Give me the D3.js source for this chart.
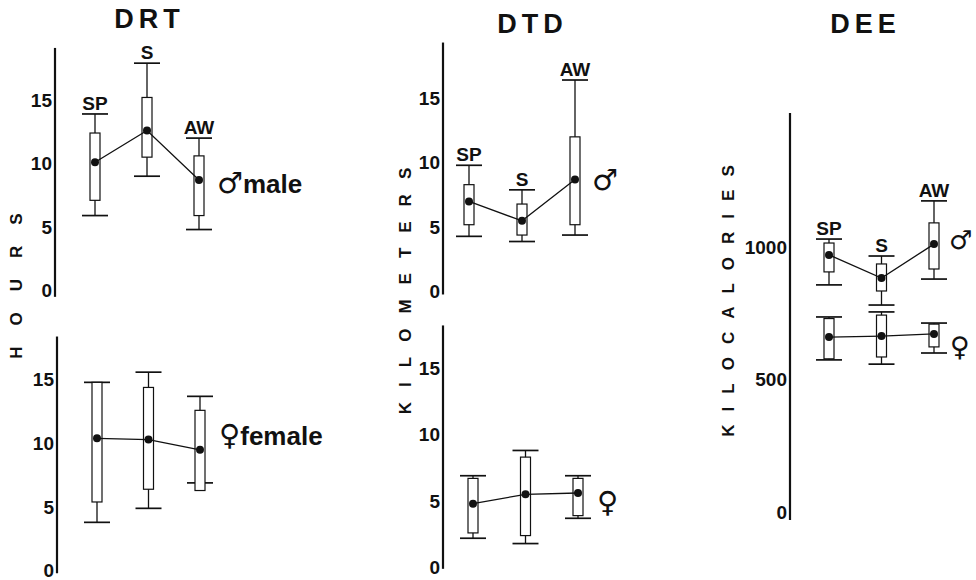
<!DOCTYPE html>
<html>
<head>
<meta charset="utf-8">
<script src="https://cdn.jsdelivr.net/npm/d3@7"></script>
<style>
  body { margin: 0; background: #fff; }
  svg text { font-family: "Liberation Sans", Arial, sans-serif; font-weight: bold; fill: #111; }
  svg .sym { font-family: "DejaVu Sans", sans-serif; font-weight: normal; }
</style>
</head>
<body>
<svg id="chart" width="976" height="580"></svg>
<script>
const seasons = ['SP', 'S', 'AW'];

// one row per season: [low whisker, box low, mean, box high, high whisker]
const drtMale   = [[5.9, 7.1, 10.1, 12.4, 13.9], [9.0, 10.5, 12.6, 15.2, 17.9], [4.8, 5.9, 8.7, 10.6, 12.0]];
const drtFemale = [[3.8, 5.4, 10.4, 14.8, 14.8], [4.9, 6.4, 10.3, 14.4, 15.6], [6.9, 6.3, 9.5, 12.6, 13.7]];
const dtdMale   = [[4.3, 5.2, 7.0, 8.3, 9.8], [3.9, 4.4, 5.5, 6.8, 7.9], [4.4, 5.2, 8.7, 12.0, 16.4]];
const dtdFemale = [[2.2, 2.6, 4.8, 6.7, 6.9], [1.8, 2.4, 5.5, 8.3, 8.8], [3.7, 3.9, 5.6, 6.7, 6.9]];
const deeMale   = [[857, 906, 970, 1015, 1030], [781, 834, 883, 936, 966], [879, 917, 1011, 1091, 1174]];
const deeFemale = [[574, 578, 660, 730, 736], [558, 585, 664, 743, 755], [600, 623, 672, 709, 713]];

const hourTicks = [0, 5, 10, 15];
const kmTicks = [0, 5, 10, 15];
const kcalTicks = [0, 500, 1000];

const svg = d3.select('#chart');
const ink = '#111';

function drawAxis(axisX, y, ticks, top, bottom) {
    const g = svg.append('g').attr('transform', `translate(${axisX},0)`);
    g.call(d3.axisLeft(y).tickValues(ticks).tickFormat(d3.format('d')).tickSize(0).tickPadding(3));
    g.select('.domain').remove();
    g.attr('font-size', null).attr('font-family', null);
    g.selectAll('.tick text')
        .style('font-size', '19px')
        .attr('fill', ink);
    g.append('line')
        .attr('y1', y(bottom))
        .attr('y2', y(top))
        .attr('stroke', ink)
        .attr('stroke-width', 2.2);
}

function drawSeries(x, y, data, withLabels) {
    const g = svg.append('g');
    const capW = 13, boxW = 5;

    data.forEach((d, i) => {
        const cx = x(seasons[i]);
        g.append('line')
            .attr('x1', cx).attr('x2', cx)
            .attr('y1', y(d[0])).attr('y2', y(d[4]))
            .attr('stroke', ink).attr('stroke-width', 1.3);
        [d[0], d[4]].forEach(v => {
            g.append('line')
                .attr('x1', cx - capW).attr('x2', cx + capW)
                .attr('y1', y(v)).attr('y2', y(v))
                .attr('stroke', ink).attr('stroke-width', 1.7);
        });
        g.append('rect')
            .attr('x', cx - boxW)
            .attr('y', y(d[3]))
            .attr('width', boxW * 2)
            .attr('height', y(d[1]) - y(d[3]))
            .attr('fill', '#fff')
            .attr('stroke', ink)
            .attr('stroke-width', 1.2);
        if (withLabels) {
            g.append('text')
                .attr('x', cx)
                .attr('y', y(d[4]) - 4)
                .attr('text-anchor', 'middle')
                .style('font-size', '19px')
                .text(seasons[i]);
        }
    });

    const line = d3.line()
        .x((d, i) => x(seasons[i]))
        .y(d => y(d[2]));
    g.append('path')
        .datum(data)
        .attr('d', line)
        .attr('fill', 'none')
        .attr('stroke', ink)
        .attr('stroke-width', 1.3);

    g.selectAll('circle')
        .data(data)
        .enter()
        .append('circle')
        .attr('cx', (d, i) => x(seasons[i]))
        .attr('cy', d => y(d[2]))
        .attr('r', 4)
        .attr('fill', ink);
}

function sexLabel(px, py, symbol, word, size) {
    const t = svg.append('text')
        .attr('x', px)
        .attr('y', py);
    t.append('tspan')
        .attr('class', 'sym')
        .style('font-size', (size || 29) + 'px')
        .text(symbol);
    if (word) {
        t.append('tspan')
            .style('font-size', '26px')
            .text(word);
    }
}

function title(px, py, txt) {
    svg.append('text')
        .attr('x', px + 2.5)
        .attr('y', py)
        .attr('text-anchor', 'middle')
        .style('font-size', '27px')
        .style('letter-spacing', '5px')
        .text(txt);
}

function vLabel(px, py, txt, spacing) {
    svg.append('text')
        .attr('transform', `translate(${px},${py}) rotate(-90)`)
        .attr('text-anchor', 'middle')
        .attr('dx', spacing / 2)
        .attr('dy', '0.35em')
        .style('font-size', '17px')
        .style('letter-spacing', spacing + 'px')
        .text(txt);
}

// ---- DRT (hours) ----
const drtX = d3.scalePoint().domain(seasons).range([95, 199]);
const drtYm = d3.scaleLinear().domain([0, 15]).range([290.5, 100]);
const drtYf = d3.scaleLinear().domain([0, 15]).range([570.7, 379.8]);
drawAxis(55, drtYm, hourTicks, 19.1, -0.5);
drawAxis(57, drtYf, hourTicks, 18.4, -0.2);
drawSeries(drtX, drtYm, drtMale, true);
drawSeries(d3.scalePoint().domain(seasons).range([97, 200]), drtYf, drtFemale, false);
sexLabel(217, 193, '\u2642', 'male');
sexLabel(219, 445, '\u2640', 'female');
title(147, 28, 'DRT');
vLabel(16, 286, 'HOURS', 21);

// ---- DTD (kilometers) ----
const dtdYm = d3.scaleLinear().domain([0, 15]).range([291.9, 98.1]);
const dtdYf = d3.scaleLinear().domain([0, 15]).range([567.5, 368]);
drawAxis(443, dtdYm, kmTicks, 19.3, -0.2);
drawAxis(443, dtdYf, kmTicks, 18.2, -0.1);
drawSeries(d3.scalePoint().domain(seasons).range([469, 575]), dtdYm, dtdMale, true);
drawSeries(d3.scalePoint().domain(seasons).range([473, 578]), dtdYf, dtdFemale, false);
sexLabel(592, 190, '\u2642');
sexLabel(597, 512, '\u2640');
title(530, 33, 'DTD');
vLabel(405, 291, 'KILOMETERS', 15);

// ---- DEE (kilocalories) ----
const deeY = d3.scaleLinear().domain([0, 1000]).range([512, 247]);
drawAxis(790, deeY, kcalTicks, 1506, -30);
drawSeries(d3.scalePoint().domain(seasons).range([829, 934]), deeY, deeFemale, false);
drawSeries(d3.scalePoint().domain(seasons).range([829, 934]), deeY, deeMale, true);
sexLabel(949, 249, '\u2642', null, 26);
sexLabel(950, 356, '\u2640', null, 27);
title(863, 33, 'DEE');
vLabel(728, 301, 'KILOCALORIES', 13);
</script>
</body>
</html>
